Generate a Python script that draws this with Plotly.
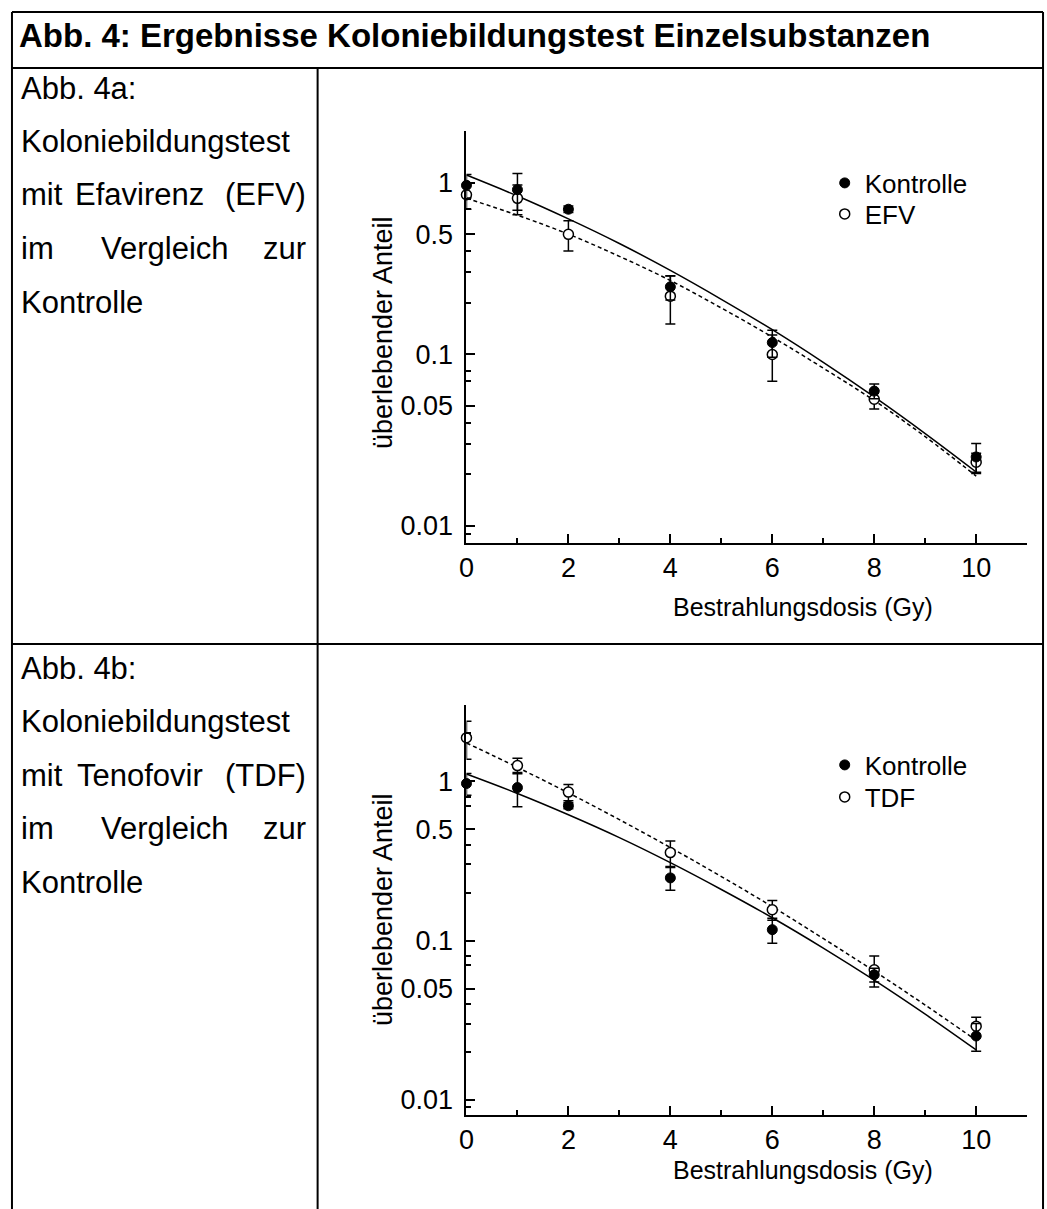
import plotly.graph_objects as go

W, H = 1047, 1209

# ---------------- data ----------------
dose = [0, 1, 2, 4, 6, 8, 10]

kontrolle = [0.965, 0.91, 0.70, 0.247, 0.117, 0.061, 0.0252]
kontrolle_err = [0.15, 0.22, 0.03, 0.04, 0.021, 0.006, 0.005]

efv = [0.85, 0.81, 0.50, 0.218, 0.0996, 0.0547, 0.0235]
efv_err = [0.15, 0.16, 0.10, 0.068, 0.03, 0.0067, 0.003]

tdf = [1.87, 1.25, 0.853, 0.356, 0.156, 0.0656, 0.029]
tdf_err = [0.5, 0.14, 0.10, 0.065, 0.022, 0.0144, 0.004]

fit_dose = [0, 1, 2, 3, 4, 5, 6, 7, 8, 9, 10]
fit_kontrolle = [1.107, 0.836, 0.615, 0.442, 0.308, 0.209, 0.139, 0.0897, 0.0564, 0.0345, 0.0206]
fit_efv = [0.811, 0.646, 0.501, 0.372, 0.269, 0.186, 0.126, 0.083, 0.0537, 0.0331, 0.0195]
fit_tdf = [1.734, 1.219, 0.843, 0.573, 0.383, 0.252, 0.163, 0.103, 0.0643, 0.0394, 0.0237]

x_ticks = [0, 2, 4, 6, 8, 10]
x_minor = [1, 3, 5, 7, 9]
y_ticks = [1, 0.5, 0.1, 0.05, 0.01]
y_ticktext = ["1", "0.5", "0.1", "0.05", "0.01"]
y_minor = [3, 2, 0.8, 0.7, 0.4, 0.3, 0.2, 0.08, 0.07, 0.04, 0.03, 0.02, 0.009]

title_text = "Abb. 4: Ergebnisse Koloniebildungstest Einzelsubstanzen"
x_title = "Bestrahlungsdosis (Gy)"
y_title = "überlebender Anteil"

FONT = "Arial, Liberation Sans, sans-serif"


def px(x):
    return x / W


def py(y):
    return 1 - y / H


fig = go.Figure()


def add_panel(xa, ya, leg_ctrl, leg_treat, treat, treat_err, treat_fit, treat_name):
    # fit lines
    fig.add_trace(go.Scatter(x=fit_dose, y=fit_kontrolle, mode="lines",
                             line=dict(color="black", width=1.5, shape="spline"),
                             xaxis=xa, yaxis=ya, showlegend=False, hoverinfo="skip"))
    fig.add_trace(go.Scatter(x=fit_dose, y=treat_fit, mode="lines",
                             line=dict(color="black", width=1.5, dash="4px,3px",
                                       shape="spline"),
                             xaxis=xa, yaxis=ya, showlegend=False, hoverinfo="skip"))
    # treatment (open)
    fig.add_trace(go.Scatter(x=dose, y=treat, mode="markers", name=treat_name,
                             marker=dict(symbol="circle", size=10, color="white",
                                         line=dict(color="black", width=1.5)),
                             error_y=dict(type="data", array=treat_err, color="black",
                                          thickness=1.5, width=5),
                             cliponaxis=False, xaxis=xa, yaxis=ya, legend=leg_treat))
    # control (filled)
    fig.add_trace(go.Scatter(x=dose, y=kontrolle, mode="markers", name="Kontrolle",
                             marker=dict(symbol="circle", size=10, color="black",
                                         line=dict(color="black", width=1)),
                             error_y=dict(type="data", array=kontrolle_err, color="black",
                                          thickness=1.5, width=5),
                             cliponaxis=False, xaxis=xa, yaxis=ya, legend=leg_ctrl))


add_panel("x", "y", "legend", "legend2", efv, efv_err, fit_efv, "EFV")
add_panel("x2", "y2", "legend3", "legend4", tdf, tdf_err, fit_tdf, "TDF")

xdom = [px(462), px(1027)]
common_x = dict(range=[0, 11], tickvals=x_ticks, ticks="inside", ticklen=9, tickwidth=2,
                tickcolor="black", showline=True, linewidth=2, linecolor="black",
                showgrid=False, zeroline=False, ticklabelstandoff=0,
                tickfont=dict(family=FONT, size=27, color="black"),
                minor=dict(tickmode="array", tickvals=x_minor, ticks="inside", ticklen=5,
                           tickwidth=2, tickcolor="black", showgrid=False))
common_y = dict(type="log", tickvals=y_ticks, ticktext=y_ticktext, ticks="inside",
                ticklen=9, tickwidth=2, tickcolor="black", showline=True, linewidth=2,
                linecolor="black", showgrid=False, zeroline=False, ticklabelstandoff=6,
                tickfont=dict(family=FONT, size=27, color="black"),
                minor=dict(tickmode="array", tickvals=y_minor, ticks="inside", ticklen=5,
                           tickwidth=2, tickcolor="black", showgrid=False))


def leg(y):
    return dict(x=px(823), y=py(y), xanchor="left", yanchor="middle",
                bgcolor="rgba(0,0,0,0)", font=dict(family=FONT, size=26, color="black"),
                itemwidth=30, tracegroupgap=0)


fig.update_layout(
    width=W, height=H, margin=dict(l=0, r=0, t=0, b=0),
    paper_bgcolor="white", plot_bgcolor="white",
    xaxis=dict(domain=xdom, anchor="y", **common_x),
    yaxis=dict(domain=[py(543), py(131)], range=[-2.1, 0.301], anchor="x", **common_y),
    xaxis2=dict(domain=xdom, anchor="y2", **common_x),
    yaxis2=dict(domain=[py(1115), py(705)], range=[-2.094, 0.477], anchor="x2", **common_y),
    legend=leg(183),
    legend2=leg(214),
    legend3=leg(765),
    legend4=leg(797),
    showlegend=True,
)

annos = []
for yy in (607, 1170):
    annos.append(dict(text=x_title, x=px(801), y=py(yy), xref="paper", yref="paper",
                      showarrow=False, xanchor="center", yanchor="middle",
                      font=dict(family=FONT, size=25, color="black")))
for yy in (333, 910):
    annos.append(dict(text=y_title, x=px(378), y=py(yy), xref="paper", yref="paper",
                      showarrow=False, xanchor="center", yanchor="middle", textangle=-90,
                      font=dict(family=FONT, size=27, color="black")))

# title
annos.append(dict(text="<b>" + title_text + "</b>", x=px(9), y=py(36), xref="paper",
                  yref="paper", showarrow=False, xanchor="left", yanchor="middle",
                  font=dict(family=FONT, size=33, color="black")))


def left_text(txt, x, y, anchor="left"):
    annos.append(dict(text=txt, x=px(x), y=py(y), xref="paper", yref="paper",
                      showarrow=False, xanchor=anchor, yanchor="middle",
                      font=dict(family=FONT, size=31, color="black")))


step = 53.5
for top, label, drug in [(88, "Abb. 4a:", "mit Efavirenz (EFV)"),
                         (668, "Abb. 4b:", "mit Tenofovir (TDF)")]:
    left_text(label, 11, top)
    left_text("Koloniebildungstest", 11, top + step)
    w = drug.split(" ")
    left_text(w[0], 11, top + 2 * step)
    left_text(w[1], 133, top + 2 * step, "center")
    left_text(w[2], 302, top + 2 * step, "right")
    left_text("im", 11, top + 3 * step)
    left_text("Vergleich", 158, top + 3 * step, "center")
    left_text("zur", 302, top + 3 * step, "right")
    left_text("Kontrolle", 11, top + 4 * step)

fig.update_layout(annotations=annos)


def line(x0, y0, x1, y1):
    fig.add_shape(type="line", xref="paper", yref="paper", x0=px(x0), y0=py(y0),
                  x1=px(x1), y1=py(y1), line=dict(color="black", width=2))


line(4, 12, 1043, 12)
line(4, 68, 1043, 68)
line(4, 644, 1043, 644)
line(4, 12, 4, 1209)
line(1043, 12, 1043, 1209)
line(312, 68, 312, 1209)

fig.write_html("out.html")
